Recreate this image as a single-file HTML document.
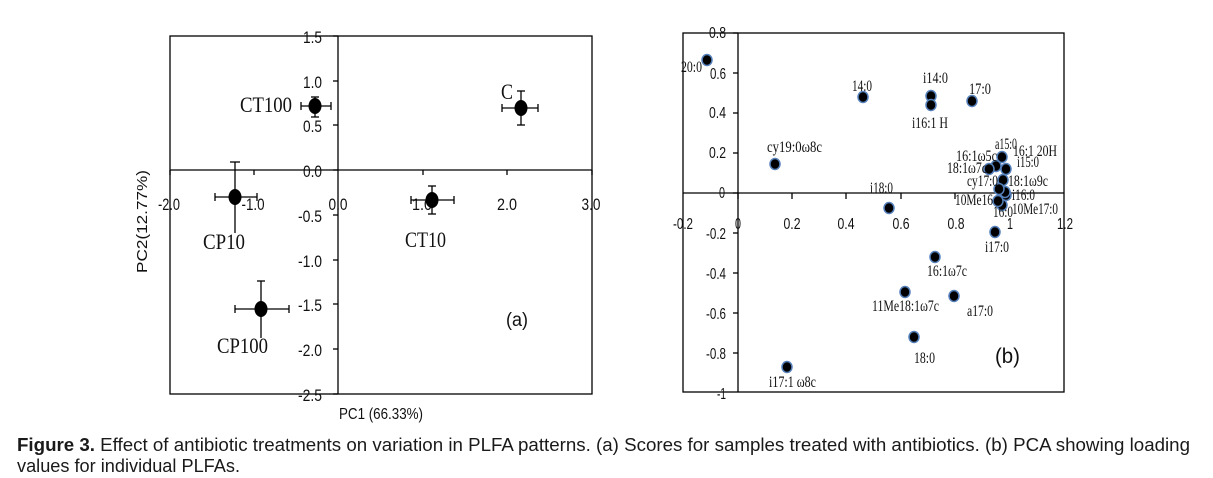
<!DOCTYPE html>
<html><head><meta charset="utf-8"><style>
html,body{margin:0;padding:0;background:#fff;}
svg{display:block;}
.tk{font-family:"Liberation Sans","DejaVu Sans",sans-serif;fill:#111;}
.sf{font-family:"Liberation Serif","DejaVu Serif",serif;fill:#111;}
</style></head><body>
<svg width="1213" height="478" viewBox="0 0 1213 478" xmlns="http://www.w3.org/2000/svg">
<rect width="1213" height="478" fill="#fff"/>

<!-- ===== Chart (a) ===== -->
<g stroke="#000" stroke-width="1.3" fill="none">
  <rect x="170" y="36" width="422" height="358"/>
  <line x1="170" y1="170" x2="592" y2="170"/>
  <line x1="338" y1="36" x2="338" y2="394"/>
  <line x1="254" y1="170" x2="254" y2="175"/>
  <line x1="423" y1="170" x2="423" y2="175"/>
  <line x1="507" y1="170" x2="507" y2="175"/>
  <line x1="592" y1="170" x2="592" y2="175"/>
  <line x1="170" y1="170" x2="170" y2="175"/>
  <line x1="333" y1="36" x2="338" y2="36"/>
  <line x1="333" y1="81" x2="338" y2="81"/>
  <line x1="333" y1="125" x2="338" y2="125"/>
  <line x1="333" y1="170" x2="338" y2="170"/>
  <line x1="333" y1="215" x2="338" y2="215"/>
  <line x1="333" y1="260" x2="338" y2="260"/>
  <line x1="333" y1="304" x2="338" y2="304"/>
  <line x1="333" y1="349" x2="338" y2="349"/>
  <line x1="333" y1="394" x2="338" y2="394"/>
</g>
<g class="tk" font-size="17" text-anchor="end">
  <text x="322" y="43" textLength="19" lengthAdjust="spacingAndGlyphs">1.5</text>
  <text x="322" y="88" textLength="19" lengthAdjust="spacingAndGlyphs">1.0</text>
  <text x="322" y="132" textLength="19" lengthAdjust="spacingAndGlyphs">0.5</text>
  <text x="322" y="177" textLength="19" lengthAdjust="spacingAndGlyphs">0.0</text>
  <text x="322" y="222" textLength="24" lengthAdjust="spacingAndGlyphs">-0.5</text>
  <text x="322" y="267" textLength="24" lengthAdjust="spacingAndGlyphs">-1.0</text>
  <text x="322" y="311" textLength="24" lengthAdjust="spacingAndGlyphs">-1.5</text>
  <text x="322" y="356" textLength="24" lengthAdjust="spacingAndGlyphs">-2.0</text>
  <text x="322" y="401" textLength="24" lengthAdjust="spacingAndGlyphs">-2.5</text>
</g>
<g class="tk" font-size="17" text-anchor="middle">
  <text x="169" y="210" textLength="22" lengthAdjust="spacingAndGlyphs">-2.0</text>
  <text x="253" y="210" textLength="23" lengthAdjust="spacingAndGlyphs">-1.0</text>
  <text x="338" y="210" textLength="19" lengthAdjust="spacingAndGlyphs">0.0</text>
  <text x="422" y="210" textLength="20" lengthAdjust="spacingAndGlyphs">1.0</text>
  <text x="507" y="210" textLength="20" lengthAdjust="spacingAndGlyphs">2.0</text>
  <text x="591" y="210" textLength="19" lengthAdjust="spacingAndGlyphs">3.0</text>
</g>
<text class="tk" font-size="16" x="339" y="419" textLength="84" lengthAdjust="spacingAndGlyphs">PC1 (66.33%)</text>
<text class="tk" font-size="15" transform="translate(147,273) rotate(-90)" textLength="103" lengthAdjust="spacingAndGlyphs">PC2(12.77%)</text>
<text class="tk" font-size="19" x="506" y="326" textLength="22" lengthAdjust="spacingAndGlyphs">(a)</text>

<g stroke="#000" stroke-width="1.3" fill="none">
  <line x1="301" y1="106" x2="331" y2="106"/><line x1="301" y1="102" x2="301" y2="110"/><line x1="331" y1="102" x2="331" y2="110"/>
  <line x1="315" y1="97" x2="315" y2="117"/><line x1="311" y1="97" x2="319" y2="97"/><line x1="311" y1="117" x2="319" y2="117"/>
  <line x1="502" y1="108" x2="538" y2="108"/><line x1="502" y1="104" x2="502" y2="112"/><line x1="538" y1="104" x2="538" y2="112"/>
  <line x1="521" y1="91" x2="521" y2="125"/><line x1="517" y1="91" x2="525" y2="91"/><line x1="517" y1="125" x2="525" y2="125"/>
  <line x1="215" y1="197" x2="257" y2="197"/><line x1="215" y1="193" x2="215" y2="201"/><line x1="257" y1="193" x2="257" y2="201"/>
  <line x1="235" y1="162" x2="235" y2="233"/><line x1="230" y1="162" x2="240" y2="162"/>
  <line x1="411" y1="200" x2="454" y2="200"/><line x1="411" y1="196" x2="411" y2="204"/><line x1="454" y1="196" x2="454" y2="204"/>
  <line x1="432" y1="186" x2="432" y2="214"/><line x1="428" y1="186" x2="436" y2="186"/><line x1="428" y1="214" x2="436" y2="214"/>
  <line x1="235" y1="309" x2="289" y2="309"/><line x1="235" y1="305" x2="235" y2="313"/><line x1="289" y1="305" x2="289" y2="313"/>
  <line x1="261" y1="281" x2="261" y2="338"/><line x1="257" y1="281" x2="265" y2="281"/>
</g>
<g fill="#000">
  <ellipse cx="315" cy="106" rx="6.5" ry="8"/>
  <ellipse cx="521" cy="108" rx="6.5" ry="8"/>
  <ellipse cx="235" cy="197" rx="6.5" ry="8"/>
  <ellipse cx="432" cy="200" rx="6.5" ry="8"/>
  <ellipse cx="261" cy="309" rx="6.5" ry="8"/>
</g>
<g class="sf" font-size="22">
  <text x="240" y="112" textLength="52" lengthAdjust="spacingAndGlyphs">CT100</text>
  <text x="501" y="99" textLength="12" lengthAdjust="spacingAndGlyphs">C</text>
  <text x="203" y="249" textLength="42" lengthAdjust="spacingAndGlyphs">CP10</text>
  <text x="405" y="247" textLength="41" lengthAdjust="spacingAndGlyphs">CT10</text>
  <text x="217" y="353" textLength="51" lengthAdjust="spacingAndGlyphs">CP100</text>
</g>

<!-- ===== Chart (b) ===== -->
<g stroke="#000" stroke-width="1.3" fill="none">
  <rect x="683" y="33" width="381" height="359"/>
  <line x1="683" y1="193" x2="1064" y2="193"/>
  <line x1="738" y1="33" x2="738" y2="392"/>
  <line x1="792" y1="193" x2="792" y2="199"/>
  <line x1="846" y1="193" x2="846" y2="199"/>
  <line x1="901" y1="193" x2="901" y2="199"/>
  <line x1="955" y1="193" x2="955" y2="199"/>
  <line x1="1010" y1="193" x2="1010" y2="199"/>
  <line x1="738" y1="193" x2="738" y2="199"/>
  <line x1="733" y1="33" x2="738" y2="33"/>
  <line x1="733" y1="73" x2="738" y2="73"/>
  <line x1="733" y1="113" x2="738" y2="113"/>
  <line x1="733" y1="153" x2="738" y2="153"/>
  <line x1="733" y1="193" x2="738" y2="193"/>
  <line x1="733" y1="233" x2="738" y2="233"/>
  <line x1="733" y1="273" x2="738" y2="273"/>
  <line x1="733" y1="313" x2="738" y2="313"/>
  <line x1="733" y1="353" x2="738" y2="353"/>
</g>
<g class="tk" font-size="16" text-anchor="end">
  <text x="726" y="38" textLength="17" lengthAdjust="spacingAndGlyphs">0.8</text>
  <text x="726" y="79" textLength="16" lengthAdjust="spacingAndGlyphs">0.6</text>
  <text x="726" y="118" textLength="17" lengthAdjust="spacingAndGlyphs">0.4</text>
  <text x="726" y="158" textLength="17" lengthAdjust="spacingAndGlyphs">0.2</text>
  <text x="725" y="198" textLength="6" lengthAdjust="spacingAndGlyphs">0</text>
  <text x="726" y="239" textLength="20" lengthAdjust="spacingAndGlyphs">-0.2</text>
  <text x="726" y="279" textLength="20" lengthAdjust="spacingAndGlyphs">-0.4</text>
  <text x="726" y="319" textLength="20" lengthAdjust="spacingAndGlyphs">-0.6</text>
  <text x="726" y="359" textLength="20" lengthAdjust="spacingAndGlyphs">-0.8</text>
  <text x="726" y="399" textLength="9" lengthAdjust="spacingAndGlyphs">-1</text>
</g>
<g class="tk" font-size="16" text-anchor="middle">
  <text x="683" y="229" textLength="20" lengthAdjust="spacingAndGlyphs">-0.2</text>
  <text x="738" y="229" textLength="6" lengthAdjust="spacingAndGlyphs">0</text>
  <text x="792" y="229" textLength="17" lengthAdjust="spacingAndGlyphs">0.2</text>
  <text x="846" y="229" textLength="17" lengthAdjust="spacingAndGlyphs">0.4</text>
  <text x="901" y="229" textLength="17" lengthAdjust="spacingAndGlyphs">0.6</text>
  <text x="956" y="229" textLength="17" lengthAdjust="spacingAndGlyphs">0.8</text>
  <text x="1010" y="229" textLength="6" lengthAdjust="spacingAndGlyphs">1</text>
  <text x="1065" y="229" textLength="16" lengthAdjust="spacingAndGlyphs">1.2</text>
</g>
<text class="tk" font-size="21" x="995" y="363" textLength="25" lengthAdjust="spacingAndGlyphs">(b)</text>

<g fill="#000" stroke="#5580bb" stroke-width="1.5">
  <ellipse cx="707" cy="60" rx="5" ry="5.5"/>
  <ellipse cx="863" cy="97" rx="5" ry="5.5"/>
  <ellipse cx="931" cy="96" rx="5" ry="5.5"/>
  <ellipse cx="931" cy="105" rx="5" ry="5.5"/>
  <ellipse cx="972" cy="101" rx="5" ry="5.5"/>
  <ellipse cx="775" cy="164" rx="5" ry="5.5"/>
  <ellipse cx="1002" cy="157" rx="5" ry="5.5"/>
  <ellipse cx="996" cy="166" rx="5" ry="5.5"/>
  <ellipse cx="989" cy="169" rx="5" ry="5.5"/>
  <ellipse cx="1006" cy="169" rx="5" ry="5.5"/>
  <ellipse cx="1003" cy="180" rx="5" ry="5.5"/>
  <ellipse cx="1006" cy="195" rx="5" ry="5.5"/>
  <ellipse cx="1005" cy="192" rx="5" ry="5.5"/>
  <ellipse cx="1002" cy="205" rx="5" ry="5.5"/>
  <ellipse cx="998" cy="201" rx="5" ry="5.5"/>
  <ellipse cx="999" cy="189" rx="5" ry="5.5"/>
  <ellipse cx="889" cy="208" rx="5" ry="5.5"/>
  <ellipse cx="995" cy="232" rx="5" ry="5.5"/>
  <ellipse cx="935" cy="257" rx="5" ry="5.5"/>
  <ellipse cx="905" cy="292" rx="5" ry="5.5"/>
  <ellipse cx="954" cy="296" rx="5" ry="5.5"/>
  <ellipse cx="914" cy="337" rx="5" ry="5.5"/>
  <ellipse cx="787" cy="367" rx="5" ry="5.5"/>
</g>
<g class="sf" font-size="16">
  <text x="681" y="72" textLength="21" lengthAdjust="spacingAndGlyphs">20:0</text>
  <text x="852" y="91" textLength="20" lengthAdjust="spacingAndGlyphs">14:0</text>
  <text x="923" y="83" textLength="25" lengthAdjust="spacingAndGlyphs">i14:0</text>
  <text x="912" y="128" textLength="36" lengthAdjust="spacingAndGlyphs">i16:1 H</text>
  <text x="969" y="94" textLength="22" lengthAdjust="spacingAndGlyphs">17:0</text>
  <text x="767" y="152" textLength="55" lengthAdjust="spacingAndGlyphs">cy19:0ω8c</text>
  <text x="995" y="149" textLength="22" lengthAdjust="spacingAndGlyphs">a15:0</text>
  <text x="1013" y="156" textLength="44" lengthAdjust="spacingAndGlyphs">16:1 20H</text>
  <text x="956" y="161" textLength="41" lengthAdjust="spacingAndGlyphs">16:1ω5c</text>
  <text x="947" y="173" textLength="40" lengthAdjust="spacingAndGlyphs">18:1ω7c</text>
  <text x="1017" y="167" textLength="22" lengthAdjust="spacingAndGlyphs">i15:0</text>
  <text x="967" y="186" textLength="31" lengthAdjust="spacingAndGlyphs">cy17:0</text>
  <text x="1008" y="186" textLength="40" lengthAdjust="spacingAndGlyphs">18:1ω9c</text>
  <text x="1012" y="200" textLength="23" lengthAdjust="spacingAndGlyphs">i16:0</text>
  <text x="955" y="205" textLength="38" lengthAdjust="spacingAndGlyphs">10Me16</text>
  <text x="1012" y="214" textLength="46" lengthAdjust="spacingAndGlyphs">10Me17:0</text>
  <text x="993" y="217" textLength="20" lengthAdjust="spacingAndGlyphs">16:0</text>
  <text x="870" y="193" textLength="23" lengthAdjust="spacingAndGlyphs">i18:0</text>
  <text x="985" y="252" textLength="24" lengthAdjust="spacingAndGlyphs">i17:0</text>
  <text x="927" y="276" textLength="40" lengthAdjust="spacingAndGlyphs">16:1ω7c</text>
  <text x="872" y="311" textLength="67" lengthAdjust="spacingAndGlyphs">11Me18:1ω7c</text>
  <text x="967" y="316" textLength="26" lengthAdjust="spacingAndGlyphs">a17:0</text>
  <text x="914" y="363" textLength="21" lengthAdjust="spacingAndGlyphs">18:0</text>
  <text x="769" y="387" textLength="47" lengthAdjust="spacingAndGlyphs">i17:1 ω8c</text>
</g>

<!-- ===== Caption ===== -->
<text class="tk" font-size="18" x="17" y="451" textLength="1173" lengthAdjust="spacingAndGlyphs" style="fill:#1a1a1a"><tspan font-weight="bold">Figure 3.</tspan> Effect of antibiotic treatments on variation in PLFA patterns. (a) Scores for samples treated with antibiotics. (b) PCA showing loading</text>
<text class="tk" font-size="18" x="17" y="472" textLength="223" lengthAdjust="spacingAndGlyphs" style="fill:#1a1a1a">values for individual PLFAs.</text>
</svg>
</body></html>
